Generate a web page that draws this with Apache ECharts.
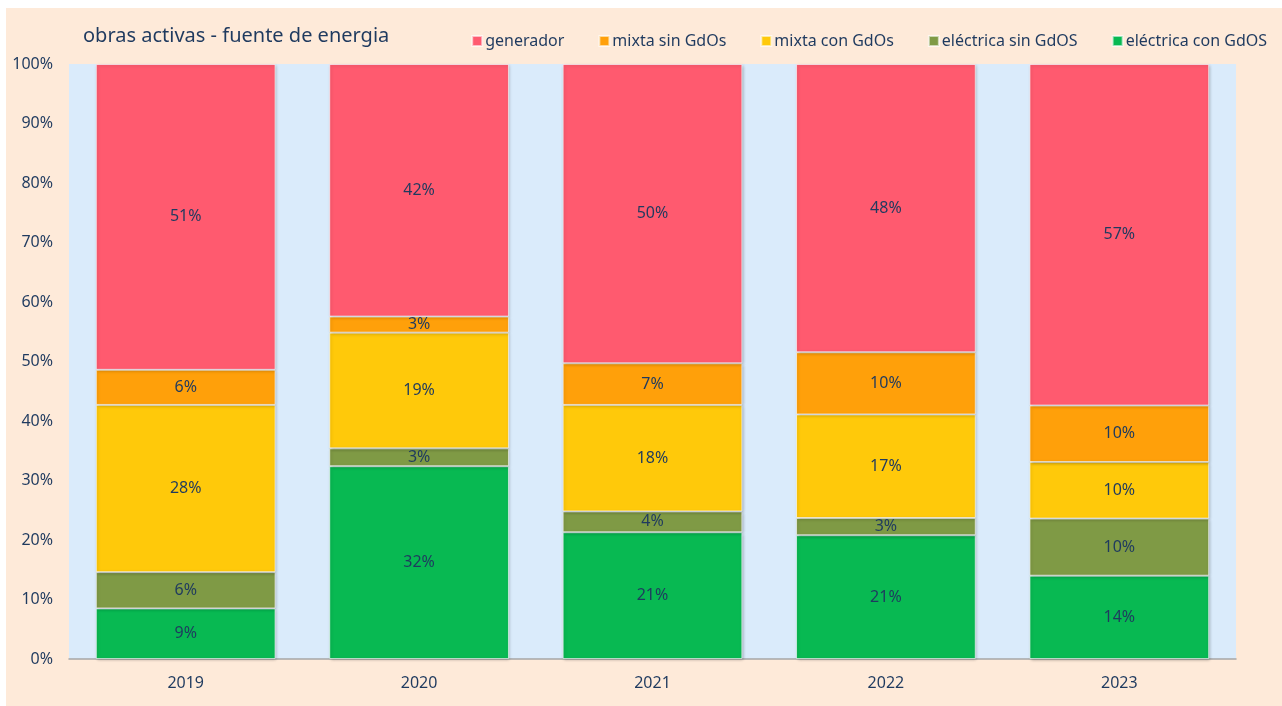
<!DOCTYPE html>
<html>
<head>
<meta charset="utf-8">
<script src="https://cdn.jsdelivr.net/npm/echarts@6/dist/echarts.min.js"></script>
<style>
  html, body { margin: 0; padding: 0; background: #ffffff; }
  #wrap { position: absolute; left: 6px; top: 8px; width: 1276px; height: 698px; background: #FEEAD9; }
  #chart { width: 1276px; height: 698px; }
</style>
</head>
<body>
<div id="wrap"><div id="chart"></div></div>
<script>
  // años
  var years = ['2019', '2020', '2021', '2022', '2023'];
  // porcentajes por fuente (de abajo hacia arriba)
  var electricaCon = [8.5, 32.4, 21.3, 20.8, 14.0];
  var electricaSin = [6.1, 3.0, 3.5, 2.9, 9.6];
  var mixtaCon = [28.1, 19.45, 17.9, 17.4, 9.5];
  var mixtaSin = [5.9, 2.7, 7.0, 10.45, 9.5];
  var generador = [51.4, 42.45, 50.3, 48.45, 57.4];
  var yTicks = ['0%', '10%', '20%', '30%', '40%', '50%', '60%', '70%', '80%', '90%', '100%'];

  var names = ['eléctrica con GdOS', 'eléctrica sin GdOS', 'mixta con GdOs', 'mixta sin GdOs', 'generador'];
  var colors = ['#08B952', '#7F9A45', '#FFC90A', '#FFA00A', '#FF5A6F'];
  var datas = [electricaCon, electricaSin, mixtaCon, mixtaSin, generador];
  var textColor = '#1F3A5F';
  var font = '"Noto Sans", "Open Sans", sans-serif';

  var myChart = echarts.init(document.getElementById('chart'));

  var series = [];
  for (var i = 0; i < names.length; i++) {
    series.push({
      name: names[i],
      type: 'bar',
      stack: 'total',
      barWidth: '77%',
      data: datas[i],
      itemStyle: {
        color: colors[i],
        borderColor: 'rgba(255,255,255,0.6)',
        borderWidth: 1,
        shadowColor: 'rgba(0,0,0,0.25)',
        shadowBlur: 3,
        shadowOffsetX: 1,
        shadowOffsetY: 1
      },
      label: {
        show: true,
        position: 'inside',
        color: textColor,
        fontFamily: font,
        fontSize: 16,
        formatter: function (p) { return Math.round(p.value) + '%'; }
      }
    });
  }

  var option = {
    backgroundColor: 'transparent',
    animation: false,
    title: {
      text: 'obras activas - fuente de energia',
      left: 72,
      top: 13,
      textStyle: { color: textColor, fontFamily: font, fontSize: 20, fontWeight: 'normal' }
    },
    legend: {
      data: ['generador', 'mixta sin GdOs', 'mixta con GdOs', 'eléctrica sin GdOS', 'eléctrica con GdOS'],
      right: 10,
      top: 20,
      icon: 'rect',
      itemWidth: 10,
      itemHeight: 10,
      itemGap: 34,
      textStyle: { color: textColor, fontFamily: font, fontSize: 16, padding: [0, 0, 0, -2] }
    },
    grid: {
      left: 63,
      right: 46,
      top: 56,
      bottom: 47,
      show: true,
      backgroundColor: '#DAEBFB',
      borderWidth: 0
    },
    xAxis: {
      type: 'category',
      data: years,
      axisLine: { show: true, lineStyle: { color: '#A6A6A6', width: 1.5 } },
      axisTick: { show: false },
      axisLabel: { color: textColor, fontFamily: font, fontSize: 16, margin: 16 }
    },
    yAxis: {
      type: 'value',
      min: 0,
      max: 100,
      interval: 10,
      splitLine: { show: false },
      axisLine: { show: false },
      axisTick: { show: false },
      axisLabel: {
        color: textColor,
        fontFamily: font,
        fontSize: 16,
        margin: 16,
        formatter: function (v) { return yTicks[Math.round(v / 10)]; }
      }
    },
    series: series
  };

  myChart.setOption(option);
</script>
</body>
</html>
